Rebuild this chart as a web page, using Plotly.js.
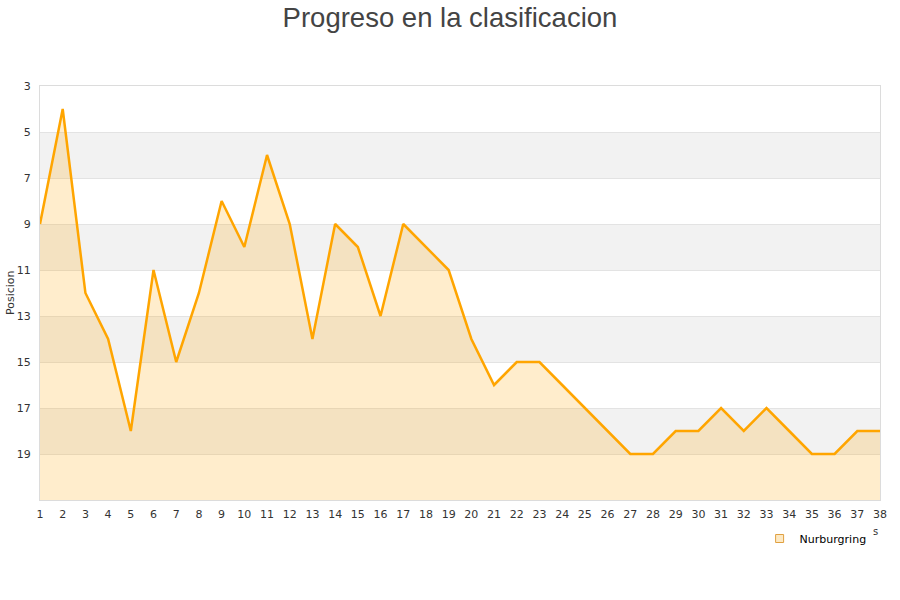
<!DOCTYPE html>
<html>
<head>
<meta charset="utf-8">
<script src="https://cdn.plot.ly/plotly-3.0.1.min.js"></script>
<style>body{margin:0;background:#fff}#chart{width:900px;height:600px}</style>
</head>
<body>
<div id="chart"></div>
<script>
var jornadas = [1,2,3,4,5,6,7,8,9,10,11,12,13,14,15,16,17,18,19,20,21,22,23,24,25,26,27,28,29,30,31,32,33,34,35,36,37,38];
var posicion = [9,4,12,14,18,11,15,12,8,10,6,9,14,9,10,13,9,10,11,14,16,15,15,16,17,18,19,19,18,18,17,18,17,18,19,19,18,18];
var baseline = jornadas.map(function(){ return 21; });
var yTicks = [3,5,7,9,11,13,15,17,19];
var bands = [[5,7],[9,11],[13,15],[17,19]];
var seriesName = 'Nurburgring';

var traces = [
  {x: jornadas, y: baseline, mode: 'lines', line: {width: 0, color: 'rgba(0,0,0,0)'}, showlegend: false, hoverinfo: 'skip'},
  {x: jornadas, y: posicion, mode: 'lines', fill: 'tonexty', fillcolor: 'rgba(255,165,0,0.2)',
   line: {color: '#ffa500', width: 2.5}, showlegend: false, name: seriesName},
  {x: [null], y: [null], mode: 'markers', name: seriesName,
   marker: {symbol: 'square', size: 8, color: '#fde9c4', line: {color: '#e0a040', width: 1}}}
];

var shapes = bands.map(function(b){
  return {type: 'rect', xref: 'paper', yref: 'y', x0: 0, x1: 1, y0: b[0], y1: b[1],
          fillcolor: '#f2f2f2', line: {width: 0}, layer: 'below'};
});

var layout = {
  width: 900, height: 600,
  margin: {l: 40, r: 20, t: 86, b: 100},
  paper_bgcolor: '#ffffff', plot_bgcolor: '#ffffff',
  font: {family: 'DejaVu Sans, sans-serif', size: 11, color: '#333'},
  title: {text: 'Progreso en la clasificacion', x: 0.5, xanchor: 'center', y: 0.987, yanchor: 'top',
          font: {family: 'Liberation Sans, Arial, sans-serif', size: 27.5, color: '#444'}},
  xaxis: {range: [1, 38], tickmode: 'array', tickvals: jornadas, ticks: 'outside', ticklen: 4,
          tickcolor: 'rgba(0,0,0,0)', showgrid: false,
          zeroline: false, showline: true, linecolor: '#dcdcdc', mirror: true,
          tickfont: {size: 11, color: '#333'}},
  yaxis: {range: [21, 3], tickmode: 'array', tickvals: yTicks, ticks: 'outside', ticklen: 6,
          tickcolor: 'rgba(0,0,0,0)', showgrid: true,
          gridcolor: '#e3e3e3', zeroline: false, showline: true, linecolor: '#dcdcdc', mirror: true,
          tickfont: {size: 11, color: '#333'}},
  shapes: shapes,
  showlegend: true,
  legend: {x: 0.99, xanchor: 'right', y: -0.058, yanchor: 'top', orientation: 'h',
           font: {size: 11, color: '#000'}, bgcolor: 'rgba(0,0,0,0)'},
  annotations: [
    {text: 's', xref: 'paper', yref: 'paper', x: 1.0, y: -0.075, xanchor: 'right', yanchor: 'middle',
     showarrow: false, font: {size: 10, color: '#333'}},
    {text: 'Posicion', xref: 'paper', yref: 'paper', x: 0, y: 0.5, xanchor: 'center', yanchor: 'middle',
     xshift: -30, textangle: -90, showarrow: false, font: {size: 11, color: '#333'}}
  ]
};

Plotly.newPlot('chart', traces, layout, {displayModeBar: false, staticPlot: true});
</script>
</body>
</html>
